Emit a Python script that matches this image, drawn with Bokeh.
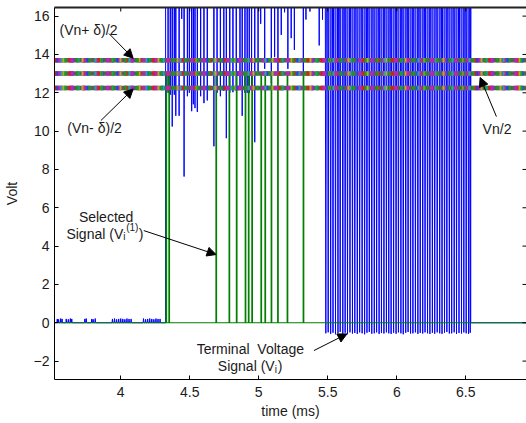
import math
from bokeh.plotting import figure
from bokeh.models import Range1d, LinearAxis, FixedTicker, Label, Arrow, NormalHead
from bokeh.embed import file_html
from bokeh.resources import INLINE

# ---------------- data ----------------
x_ticks = [4, 4.5, 5, 5.5, 6, 6.5]
y_ticks = [-2, 0, 2, 4, 6, 8, 10, 12, 14, 16]

# threshold levels (Vn+d)/2, Vn/2, (Vn-d)/2
levels = [13.7, 13.0, 12.25]

# terminal voltage: small noise spikes before switching starts
noise_times = [3.540, 3.550, 3.565, 3.575, 3.605, 3.620, 3.635, 3.645, 3.740, 3.750,
               3.790, 3.800, 3.815, 3.940, 3.955, 3.970, 3.985, 4.000, 4.015, 4.030,
               4.045, 4.060, 4.075, 4.165, 4.180, 4.195, 4.210, 4.225, 4.240, 4.255,
               4.270, 4.285]
noise_peaks = [0.20, 0.18, 0.22, 0.20, 0.20, 0.18, 0.22, 0.20, 0.20, 0.22,
               0.20, 0.18, 0.22, 0.20, 0.22, 0.18, 0.20, 0.22, 0.20, 0.18,
               0.22, 0.20, 0.20, 0.22, 0.18, 0.20, 0.22, 0.20, 0.18, 0.22,
               0.20, 0.20]
rise_time = 4.325
blue_high = 20.0

# dips of the terminal voltage from its saturated level
dip_times = [4.343, 4.359, 4.373, 4.388, 4.399, 4.423, 4.442, 4.459, 4.483, 4.497,
             4.514, 4.526, 4.538, 4.555, 4.579, 4.603, 4.627, 4.675, 4.698, 4.722,
             4.747, 4.765, 4.790, 4.813, 4.837, 4.864, 4.880, 4.900, 4.916, 4.931,
             4.948, 4.971, 4.995, 5.014, 5.043, 5.091, 5.115, 5.139, 5.163, 5.187,
             5.211, 5.235, 5.258, 5.323, 5.342, 5.371, 5.438, 5.462]
dip_values = [12.0, 11.9, 10.24, 11.9, 10.8, 10.8, 15.86, 7.63, 11.82, 12.0,
              11.04, 11.4, 11.2, 11.0, 11.82, 11.46, 11.6, 9.21, 12.0, 11.82,
              12.1, 9.63, 12.0, 12.03, 12.1, 12.3, 10.8, 12.0, 12.0, 12.0,
              12.2, 9.42, 13.0, 15.6, 13.25, 12.5, 13.86, 13.0, 15.02, 16.2,
              13.25, 14.85, 14.24, 13.0, 15.82, 16.24, 14.47, 15.82]

# dense full-swing oscillation
osc_times = [5.486, 5.503, 5.521, 5.538, 5.556, 5.574, 5.590, 5.609, 5.626, 5.643,
             5.661, 5.679, 5.696, 5.714, 5.731, 5.749, 5.767, 5.784, 5.801, 5.819,
             5.837, 5.854, 5.872, 5.889, 5.907, 5.925, 5.942, 5.959, 5.977, 5.995,
             6.012, 6.030, 6.047, 6.065, 6.082, 6.100, 6.117, 6.135, 6.153, 6.170,
             6.188, 6.205, 6.223, 6.240, 6.258, 6.275, 6.293, 6.311, 6.328, 6.346,
             6.363, 6.381, 6.398, 6.416, 6.433, 6.451, 6.469, 6.486, 6.503, 6.520,
             6.532]
osc_lows = [-0.55, -0.50, -0.58, -0.52, -0.60, -0.55, -0.48, -0.57, -0.52, -0.60,
            -0.50, -0.56, -0.53, -0.58, -0.50, -0.55, -0.60, -0.52, -0.48, -0.57,
            -0.55, -0.50, -0.58, -0.53, -0.56, -0.50, -0.55, -0.58, -0.52, -0.57,
            -0.50, -0.55, -0.60, -0.52, -0.48, -0.56, -0.55, -0.50, -0.58, -0.53,
            -0.56, -0.50, -0.55, -0.58, -0.52, -0.57, -0.50, -0.55, -0.58, -0.52,
            -0.48, -0.56, -0.55, -0.50, -0.58, -0.53, -0.56, -0.50, -0.55, -0.58,
            -0.52]

# selected signal pulses (0 -> Vn/2)
pulse_times = [4.328, 4.349, 4.690, 4.785, 4.838, 4.902, 4.925, 4.950, 5.016, 5.045,
               5.090, 5.137, 5.206, 5.322]
pulse_level = 13.0

x_lo, x_hi = 3.52, 6.94
y_lo, y_hi = -2.96, 16.45

# ---------------- build series ----------------
bx, by = [x_lo], [0.0]
for t, h in zip(noise_times, noise_peaks):
    bx += [t - 0.003, t, t + 0.003]
    by += [0.0, h, 0.0]
bx += [rise_time, rise_time]
by += [0.0, blue_high]
for t, v in zip(dip_times, dip_values):
    bx += [t - 0.002, t, t + 0.002]
    by += [blue_high, v, blue_high]
for t, v in zip(osc_times, osc_lows):
    bx += [t - 0.0045, t, t + 0.0045]
    by += [blue_high, v, blue_high]
bx += [osc_times[-1] + 0.004, x_hi]
by += [0.0, 0.0]

gx, gy = [x_lo], [0.0]
for t in pulse_times:
    gx += [t, t, t + 0.004, t + 0.004]
    gy += [0.0, pulse_level, pulse_level, 0.0]
gx.append(x_hi)
gy.append(0.0)

# ---------------- figure ----------------
FONT = "Liberation Sans"
TXT = "#1a1a1a"

p = figure(width=526, height=423, x_range=Range1d(x_lo, x_hi), y_range=Range1d(y_lo, y_hi),
           output_backend="svg", toolbar_location=None,
           min_border_left=50, min_border_right=0, min_border_top=7, min_border_bottom=44)
p.outline_line_color = None
p.xgrid.visible = False
p.ygrid.visible = False
p.background_fill_color = "white"
p.border_fill_color = "white"

for ax, ticks in ((p.xaxis[0], x_ticks), (p.yaxis[0], y_ticks)):
    ax.ticker = FixedTicker(ticks=ticks)
    ax.major_tick_in = 4
    ax.major_tick_out = 0
    ax.minor_tick_line_color = None
    ax.axis_line_color = "black"
    ax.major_tick_line_color = "black"
    ax.major_label_text_font = FONT
    ax.major_label_text_font_size = "14px"
    ax.major_label_text_color = TXT
    ax.axis_label_text_font = FONT
    ax.axis_label_text_font_size = "14px"
    ax.axis_label_text_font_style = "normal"
    ax.axis_label_text_color = TXT

p.xaxis.axis_label = "time (ms)"
p.yaxis.axis_label = "Volt"
p.xaxis.major_label_standoff = 7
p.xaxis.axis_label_standoff = 3
p.yaxis.major_label_standoff = 5
p.yaxis.axis_label_standoff = 11

# top frame line (no ticks / labels on the axis itself)
top_ax = LinearAxis(ticker=FixedTicker(ticks=[]), major_tick_in=0, major_tick_out=0,
                    minor_tick_line_color=None, major_label_standoff=0,
                    axis_line_color="#222", axis_line_width=2)
p.add_layout(top_ax, "above")

# signals
p.line(bx, by, line_color="#0000ff", line_width=1)
p.line(gx, gy, line_color="#008000", line_width=1.2)

# multicoloured threshold lines
speck = [("#e01818", "3 11"), ("#2040ff", "2 13"), ("#c020c0", "3 9"),
         ("#20a8a8", "2 15"), ("#b0b020", "2 17"), ("#18a018", "2 10")]
for lv in levels:
    p.line([x_lo, x_hi], [lv, lv], line_color="#56605a", line_width=4.5)
    for i, (c, d) in enumerate(speck):
        p.line([x_lo, x_hi], [lv, lv], line_color=c, line_width=4.5,
               line_dash=d, line_dash_offset=-2 * i)

# mirrored inward ticks on top and right edges (clipped to the frame)
p.scatter(x_ticks, [y_hi] * len(x_ticks), marker="dash", angle=math.pi / 2,
          size=8, line_color="black", line_width=1)
p.scatter([x_hi] * len(y_ticks), y_ticks, marker="dash", size=8,
          line_color="black", line_width=1)


def lab(x, y, text, size="14px", align="left", base="middle", xo=0, yo=0):
    p.add_layout(Label(x=x, y=y, text=text, text_font=FONT, text_font_size=size,
                       text_color=TXT, text_align=align, text_baseline=base,
                       x_offset=xo, y_offset=yo))


def arrow(x0, y0, x1, y1):
    p.add_layout(Arrow(end=NormalHead(size=9, fill_color="black", line_color="black", line_width=1),
                       x_start=x0, y_start=y0, x_end=x1, y_end=y1,
                       line_color="black", line_width=1))


# annotations
lab(3.556, 15.29, "(Vn+ δ)/2")
arrow(3.915, 15.09, 4.090, 13.80)
lab(3.613, 10.14, "(Vn- δ)/2")
arrow(3.856, 10.55, 4.090, 12.20)
lab(6.622, 10.12, "Vn/2")
arrow(6.722, 10.76, 6.604, 12.80)

lab(3.894, 5.508, "Selected", align="center", base="alphabetic")
lab(4.018, 4.642, "Signal (V", align="right", base="alphabetic")
lab(4.018, 4.642, "i", size="10px", base="alphabetic", xo=0, yo=-3)
lab(4.018, 4.642, "(1)", size="10px", base="alphabetic", xo=3, yo=6)
lab(4.018, 4.642, ")", base="alphabetic", xo=15.5)
arrow(4.167, 4.81, 4.691, 3.56)

lab(4.939, -1.36, "Terminal\u00a0 Voltage", align="center", base="alphabetic")
lab(5.115, -2.28, "Signal (V", align="right", base="alphabetic")
lab(5.115, -2.28, "i", size="10px", base="alphabetic", xo=0, yo=-3)
lab(5.115, -2.28, ")", base="alphabetic", xo=3)
arrow(5.400, -1.45, 5.639, -0.58)

open("out.html", "w").write(file_html(p, INLINE))
